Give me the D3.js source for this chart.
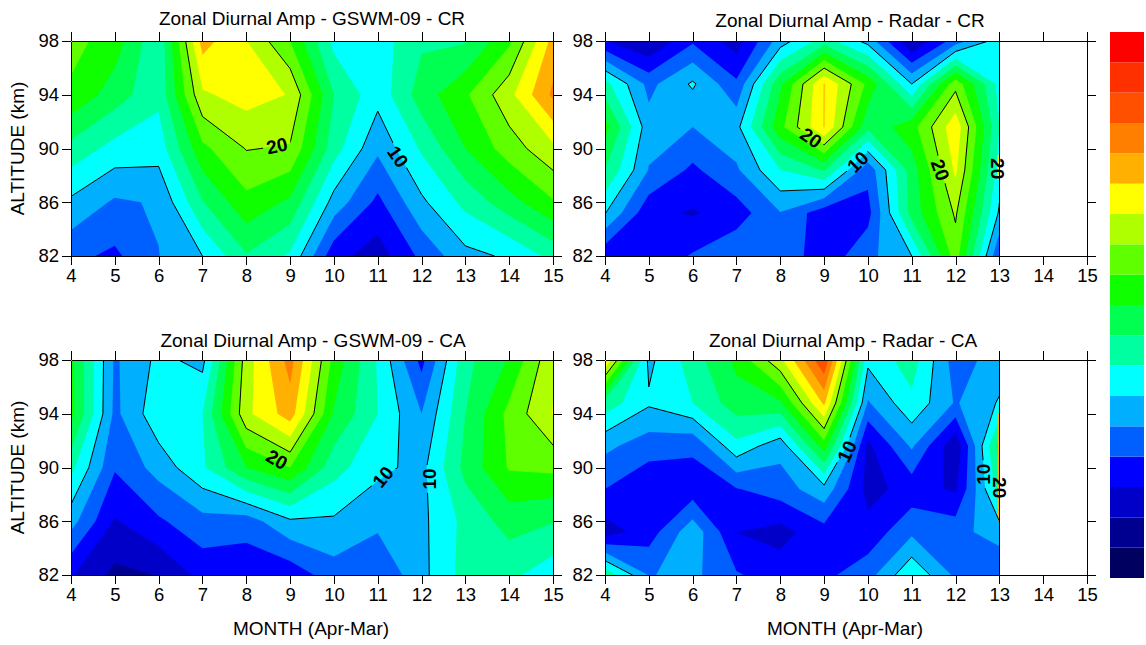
<!DOCTYPE html>
<meta charset="utf-8">
<style>
    body { margin: 0; background: #fff; }
    text { font-family: "Liberation Sans", Arial, sans-serif; fill: #000; }
    .tick text { font-size: 18.5px; }
    .axis-label { font-size: 19px; }
    .title { font-size: 19px; }
    .clabel { font-size: 19px; font-weight: bold; }
    .axis path, .axis line { stroke: #000; stroke-width: 1px; shape-rendering: crispEdges; }
    .cline { fill: none; stroke: #000; stroke-width: 1px; }
</style>
<svg width="1146" height="645"></svg>
<script src="https://d3js.org/d3.v7.min.js"></script>
<script>
    const months = [4, 5, 6, 7, 8, 9, 10, 11, 12, 13, 14, 15];
    const radarMonths = [4, 5, 6, 7, 8, 9, 10, 11, 12, 13];
    const altTicks = [82, 86, 90, 94, 98];
    const gswmAlts = [98, 94, 90, 86, 82];
    const radarAlts = [98, 94.8, 91.6, 88.4, 85.2, 82];

    // amplitude levels, one colour per band (lowest first)
    const levels = [0, 2, 4, 6, 8, 10, 12, 14, 16, 18, 20, 22, 24, 26, 28, 30, 32];
    const colors = ["#000060", "#000090", "#0000c8", "#0000ff", "#0060ff", "#00b0ff", "#00ffff", "#00ffa0",
        "#00ff50", "#10ff00", "#60ff00", "#b0ff00", "#ffff00", "#ffb000", "#ff8000", "#ff5000", "#ff3000", "#ff0000"];
    const lineLevels = [10, 20];

    const gswmCr = [
        [18.7, 17, 12.3, 24.8, 22.05, 18, 11.4, 11, 13.7, 13.8, 17.6, 24.7],
        [17.6, 15, 12.5, 21.7, 22.8, 21.9, 14, 10.7, 15, 17.7, 21.4, 26.4],
        [13.3, 11.3, 10.9, 17.5, 20.1, 19.8, 12.9, 8.4, 12.3, 16, 19, 21.5],
        [9.6, 7.7, 8.2, 13.9, 17.4, 15.6, 9.2, 5.5, 9.6, 12.6, 15.2, 17.8],
        [6.5, 5.6, 7.95, 10, 13.8, 11.7, 4.7, 3, 6.5, 9.4, 10.3, 12.6]
    ];
    const radarCr = [
        [4.1, 2, 5.7, 3, 9, 13, 9.3, 1.9, 7, 11],
        [12.7, 7.4, 10.3, 6.4, 15.6, 24.1, 17.5, 10, 19.3, 11.3],
        [16.8, 8.8, 8, 9.4, 17.4, 24.1, 14.5, 17.2, 23.4, 12],
        [14, 7.9, 5.6, 7.7, 12, 14.2, 6.6, 15, 22.4, 11],
        [10.1, 4.6, 3.8, 5, 7.9, 4.8, 5.3, 14.8, 20.3, 9.7],
        [4.5, 4.4, 6.2, 7.6, 7.5, 4.7, 7.4, 10, 19, 6.1]
    ];
    const gswmCa = [
        [16.6, 7.7, 10.5, 9.4, 21, 26.8, 17.3, 11.8, 5.4, 13.4, 16.2, 21.6],
        [16.7, 7.5, 11.4, 12, 21.5, 25, 15.8, 12, 8, 14, 18.6, 22.1],
        [12.6, 6.2, 8.8, 11.7, 16, 18, 12.8, 10.5, 9.4, 14.6, 18.2, 18.5],
        [8.8, 3.8, 5.7, 7.3, 7, 9.7, 9.7, 8.5, 9.5, 12.6, 14.8, 14.1],
        [4.2, 1.5, 2.05, 4.7, 4.5, 4.7, 7.1, 6.2, 9.4, 12.8, 12.5, 10.8]
    ];
    const radarCa = [
        [24, 9.5, 13, 16.5, 21.5, 29.8, 10.5, 13, 7, 9],
        [13.1, 10.3, 12, 15.1, 15.7, 24.4, 7.8, 11.5, 7.8, 10.2],
        [8.5, 6.9, 6.4, 11.4, 8.7, 17, 3.5, 8.3, 2.4, 15],
        [6, 4.4, 4.9, 5.9, 7, 9.3, 3.3, 4.8, 3.7, 13],
        [3, 5, 9.3, 4, 3.3, 5.2, 4.7, 7.6, 7.3, 9],
        [13.5, 7.9, 8.5, 6.2, 5, 5.5, 7.2, 11.7, 7.6, 6]
    ];

    // contour labels: month, altitude, text, angle
    const gswmCrLabels = [[8.7, 90.2, "20", -12], [11.46, 89.4, "10", 55]];
    const radarCrLabels = [[8.7, 90.8, "20", 35], [9.77, 89, "10", -45], [11.65, 88.4, "20", 70], [12.97, 88.5, "20", 90]];
    const gswmCaLabels = [[8.7, 90.6, "20", 30], [11.12, 89.3, "10", -50], [12.17, 89.15, "10", -90]];
    const radarCaLabels = [[9.52, 91.2, "10", -65], [12.64, 89.5, "10", -90], [13.01, 88.5, "20", 90]];

    // steep rise at the last radar month: altitude from, altitude to, amplitude
    const radarCrEdge = [89.5, 87.7, 23];
    const radarCaEdge = [94, 86, 25];

    const svg = d3.select("svg");
    const plotW = 482, plotH = 215;
    const x = d3.scaleLinear().domain([4, 15]).range([0, plotW]);
    const y = d3.scaleLinear().domain([82, 98]).range([plotH, 0]);
    const bandColor = d3.scaleThreshold().domain(levels).range(colors);

    const panels = [
        { id: "a", left: 71, top: 41, values: gswmCr, cols: months, alts: gswmAlts, labels: gswmCrLabels, title: "Zonal Diurnal Amp - GSWM-09 - CR", titleX: 241, titleY: -16 },
        { id: "b", left: 605, top: 41, values: radarCr, cols: radarMonths, alts: radarAlts, labels: radarCrLabels, edge: radarCrEdge, title: "Zonal Diurnal Amp - Radar - CR", titleX: 245, titleY: -14 },
        { id: "c", left: 71, top: 360, values: gswmCa, cols: months, alts: gswmAlts, labels: gswmCaLabels, title: "Zonal Diurnal Amp - GSWM-09 - CA", titleX: 242, titleY: -13 },
        { id: "d", left: 605, top: 360, values: radarCa, cols: radarMonths, alts: radarAlts, labels: radarCaLabels, edge: radarCaEdge, title: "Zonal Diurnal Amp - Radar - CA", titleX: 238, titleY: -13 }
    ];

    panels.forEach(function(p) {
        const g = svg.append("g").attr("transform", `translate(${p.left},${p.top})`);
        const nx = p.cols.length, ny = p.alts.length;
        const flat = p.values.flat();

        // contour coordinates have grid points at i + 0.5
        const gx = d3.scaleLinear().domain([0.5, nx - 0.5]).range([x(p.cols[0]), x(p.cols[nx - 1])]);
        const gy = d3.scaleLinear().domain([0.5, ny - 0.5]).range([y(p.alts[0]), y(p.alts[ny - 1])]);
        const path = d3.geoPath(d3.geoTransform({
            point: function(a, b) { this.stream.point(gx(a), gy(b)); }
        }));

        const lastX = x(p.cols[nx - 1]);
        svg.append("clipPath").attr("id", "clip-" + p.id)
            .append("rect").attr("width", lastX).attr("height", plotH);

        const area = g.append("g").attr("clip-path", `url(#clip-${p.id})`);
        area.append("rect").attr("width", lastX).attr("height", plotH).attr("fill", colors[0]);

        const contours = d3.contours().size([nx, ny]).thresholds(levels)(flat);
        area.selectAll("path.band")
            .data(contours)
            .enter().append("path")
            .attr("class", "band")
            .attr("d", path)
            .attr("fill", d => bandColor(d.value));

        if (p.edge) {
            area.append("line")
                .attr("x1", lastX - 1).attr("x2", lastX - 1)
                .attr("y1", y(p.edge[0])).attr("y2", y(p.edge[1]))
                .attr("stroke", bandColor(p.edge[2]))
                .attr("stroke-width", 1.5);
        }

        // gaps in the lines under the labels
        const mask = svg.append("mask").attr("id", "gap-" + p.id)
            .attr("maskUnits", "userSpaceOnUse")
            .attr("x", -10).attr("y", -10).attr("width", plotW + 20).attr("height", plotH + 20);
        mask.append("rect").attr("x", -10).attr("y", -10).attr("width", plotW + 20).attr("height", plotH + 20).attr("fill", "#fff");
        mask.selectAll("rect.gap")
            .data(p.labels)
            .enter().append("rect")
            .attr("class", "gap")
            .attr("x", -14).attr("y", -8).attr("width", 28).attr("height", 16)
            .attr("fill", "#000")
            .attr("transform", d => `translate(${x(d[0])},${y(d[1])}) rotate(${d[3]})`);

        const lines = area.append("g").attr("mask", `url(#gap-${p.id})`);
        lines.selectAll("path")
            .data(d3.contours().size([nx, ny]).thresholds(lineLevels)(flat))
            .enter().append("path")
            .attr("class", "cline")
            .attr("d", path);

        g.selectAll("text.clabel")
            .data(p.labels)
            .enter().append("text")
            .attr("class", "clabel")
            .attr("text-anchor", "middle")
            .attr("dy", "0.35em")
            .attr("transform", d => `translate(${x(d[0])},${y(d[1])}) rotate(${d[3]})`)
            .text(d => d[2]);

        // Axes
        g.append("g").attr("class", "axis")
            .attr("transform", `translate(0,${plotH})`)
            .call(d3.axisBottom(x).tickValues(months).tickSize(9).tickSizeOuter(0).tickPadding(4).tickFormat(d3.format("d")));
        g.append("g").attr("class", "axis")
            .call(d3.axisTop(x).tickValues(months).tickSize(9).tickSizeOuter(0).tickFormat(""));
        g.append("g").attr("class", "axis")
            .call(d3.axisLeft(y).tickValues(altTicks).tickSize(9).tickSizeOuter(0).tickPadding(3).tickFormat(d3.format("d")));
        g.append("g").attr("class", "axis")
            .attr("transform", `translate(${plotW},0)`)
            .call(d3.axisRight(y).tickValues(altTicks).tickSize(9).tickSizeOuter(0).tickFormat(""));
        if (p.edge) {
            g.append("line")
                .attr("x1", lastX).attr("x2", lastX)
                .attr("y1", 0).attr("y2", plotH)
                .attr("stroke", "#000").attr("shape-rendering", "crispEdges");
        }

        g.append("text").attr("class", "title")
            .attr("x", p.titleX).attr("y", p.titleY)
            .attr("text-anchor", "middle")
            .text(p.title);

        if (p.left < 100) {
            g.append("text").attr("class", "axis-label")
                .attr("transform", "rotate(-90)")
                .attr("x", -plotH / 2).attr("y", -47)
                .attr("text-anchor", "middle")
                .text("ALTITUDE (km)");
        }
        if (p.top > 100) {
            g.append("text").attr("class", "axis-label")
                .attr("x", plotW / 2 - 1).attr("y", plotH + 60)
                .attr("text-anchor", "middle")
                .text("MONTH (Apr-Mar)");
        }
    });

    // Colour bar, drawn from the same bands
    const barY = d3.scaleBand().domain(d3.range(colors.length)).range([578, 32]);
    svg.append("g").selectAll("rect")
        .data(colors)
        .enter().append("rect")
        .attr("x", 1110)
        .attr("y", (d, i) => barY(i))
        .attr("width", 34)
        .attr("height", barY.bandwidth())
        .attr("fill", d => d);
</script>
